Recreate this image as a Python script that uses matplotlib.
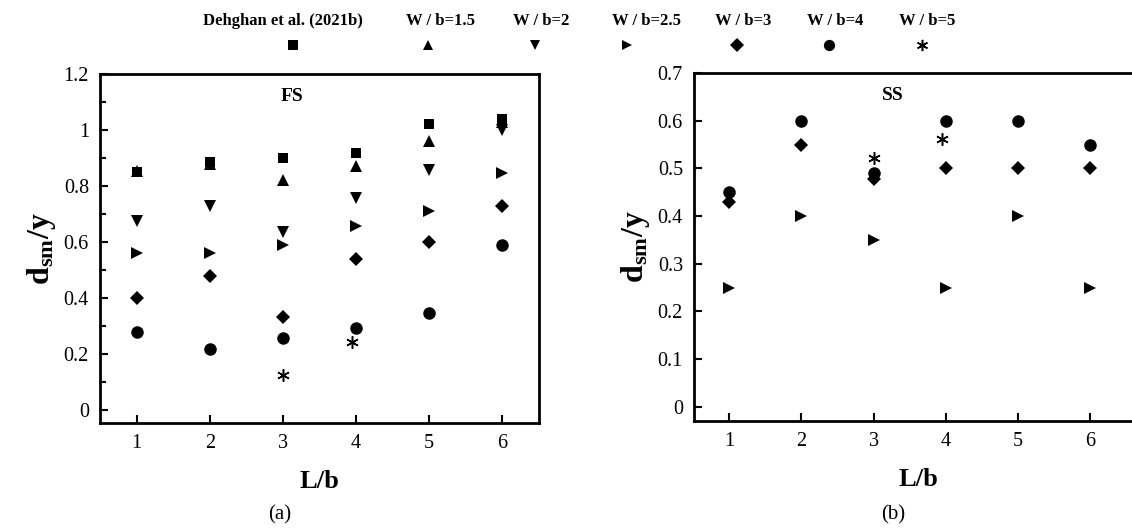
import numpy as np
import matplotlib.pyplot as plt
from matplotlib.ticker import MultipleLocator, FormatStrFormatter

plt.rcParams['font.family'] = ['Liberation Serif', 'DejaVu Serif']
plt.rcParams['mathtext.fontset'] = 'custom'
plt.rcParams['mathtext.rm'] = 'Liberation Serif:bold'
plt.rcParams['mathtext.it'] = 'Liberation Serif:bold'

# =========================
# DONNEES
# =========================
series = ['Dehghan et al. (2021b)', 'W / b=1.5', 'W / b=2', 'W / b=2.5',
          'W / b=3', 'W / b=4', 'W / b=5']
markers = ['s', '^', 'v', '>', 'D', 'o', (6, 2, 0)]
sizes = [7.5, 8, 8, 8, 7.5, 9, 9]

lb = [1, 2, 3, 4, 5, 6]

# FS (panel a)
fs_dehghan = [0.85, 0.886, 0.90, 0.918, 1.02, 1.04]
fs_wb15 = [0.855, 0.88, 0.82, 0.872, 0.96, 1.03]
fs_wb2 = [0.676, 0.727, 0.636, 0.756, 0.858, 1.00]
fs_wb25 = [0.559, 0.559, 0.588, 0.657, 0.711, 0.848]
fs_wb3 = [0.398, 0.478, 0.331, 0.54, 0.598, 0.729]
fs_wb4 = [0.278, 0.217, 0.258, 0.293, 0.347, 0.589]
fs_wb5_x = [3, 3.95]
fs_wb5 = [0.125, 0.243]

# SS (panel b)
ss_wb25 = [0.25, 0.40, 0.35, 0.25, 0.40, 0.25]
ss_wb3 = [0.43, 0.55, 0.478, 0.50, 0.50, 0.50]
ss_wb4 = [0.45, 0.60, 0.49, 0.60, 0.60, 0.55]
ss_wb5_x = [3, 3.95]
ss_wb5 = [0.522, 0.562]

W, H = 1132, 528
fig = plt.figure(figsize=(W / 100, H / 100), dpi=100)


def style_axes(ax, ystep, minor=None):
    ax.set_xticks(lb)
    ax.yaxis.set_major_locator(MultipleLocator(ystep))
    ax.yaxis.set_major_formatter(FormatStrFormatter('%g'))
    if minor:
        ax.yaxis.set_minor_locator(MultipleLocator(minor))
    ax.tick_params(direction='in', length=6, width=1.5, labelsize=14.5, pad=8)
    ax.tick_params(which='minor', direction='in', length=4, width=1.5)
    for sp in ax.spines.values():
        sp.set_linewidth(2)
    ax.set_xlabel('L/b', fontsize=19, fontweight='bold', labelpad=12)
    ax.set_ylabel('d$_{\\rm sm}$/y', fontsize=23, fontweight='bold', labelpad=4)


def star(ax, x, y, ms):
    ax.plot(x, y, ls='none', marker=markers[6], ms=ms, color='black', mew=1.1)


# ---- (a) FS
ax1 = fig.add_axes([100 / W, 1 - 423 / H, 439 / W, 349 / H])
fs_all = [fs_dehghan, fs_wb15, fs_wb2, fs_wb25, fs_wb3, fs_wb4]
for k in [1, 0, 2, 3, 4, 5]:
    ax1.plot(lb, fs_all[k], ls='none', marker=markers[k], ms=sizes[k],
             color='black', mew=0)
star(ax1, fs_wb5_x, fs_wb5, sizes[6])
ax1.set_xlim(0.5, 6.5)
ax1.set_ylim(-0.047, 1.2)
style_axes(ax1, 0.2, minor=0.1)
ax1.text(3.13, 1.12, 'FS', fontsize=14, fontweight='bold', ha='center', va='center')
fig.text(280 / W, 1 - 515 / H, '(a)', fontsize=15, ha='center', va='center')

# ---- (b) SS
ax2 = fig.add_axes([694 / W, 1 - 421 / H, 448 / W, 348 / H])
ax2.plot(lb, ss_wb25, ls='none', marker=markers[3], ms=sizes[3], color='black', mew=0)
ax2.plot(lb, ss_wb3, ls='none', marker=markers[4], ms=sizes[4], color='black', mew=0)
ax2.plot(lb, ss_wb4, ls='none', marker=markers[5], ms=sizes[5], color='black', mew=0)
star(ax2, ss_wb5_x, ss_wb5, sizes[6])
ax2.set_xlim(0.51, 6.72)
ax2.set_ylim(-0.03, 0.7)
style_axes(ax2, 0.1)
ax2.text(3.26, 0.653, 'SS', fontsize=14, fontweight='bold', ha='center', va='center')
fig.text(893 / W, 1 - 515 / H, '(b)', fontsize=15, ha='center', va='center')

# ---- legende en haut (texte au-dessus, symbole en dessous)
label_x = [283, 441, 541, 646, 743, 835, 927]
marker_x = [293, 428, 535, 627, 737, 829, 922]
leg = fig.add_axes([0, 0, 1, 1], zorder=-1)
leg.set_xlim(0, W)
leg.set_ylim(H, 0)
leg.axis('off')
for name, m, s, tx, mx in zip(series, markers, sizes, label_x, marker_x):
    leg.text(tx, 21, name, fontsize=12, fontweight='bold', ha='center', va='center')
    leg.plot([mx], [45], ls='none', marker=m, ms=s * 0.9, color='black',
             mew=1.1 if isinstance(m, tuple) else 0)

fig.savefig('out.png', dpi=100)
